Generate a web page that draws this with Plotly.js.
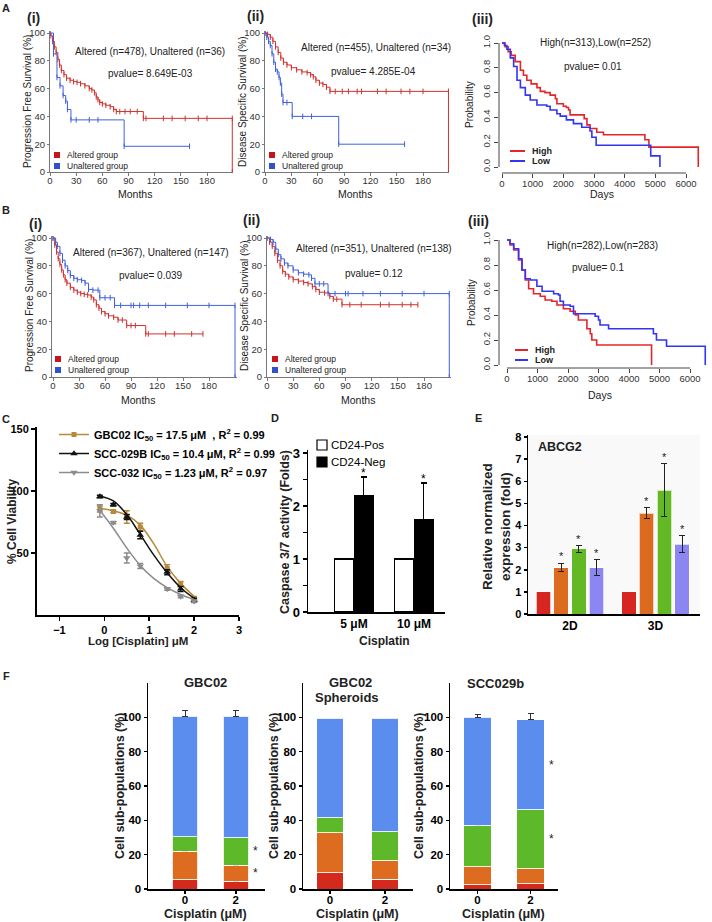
<!DOCTYPE html>
<html>
<head>
<meta charset="utf-8">
<script src="https://cdn.plot.ly/plotly-3.0.1.min.js"></script>
<style>
  body { margin: 0; background: #fff; }
  #fig { width: 712px; height: 922px; }
</style>
</head>
<body>
<div id="fig"></div>
<script>
// ---------- data ----------

// A(i) progression free survival, months / %
const aiAltT = [0, 1, 3, 5, 7, 9, 11, 13, 16, 19, 23, 27, 31, 35, 40, 45, 48, 51, 53, 55, 57, 60, 64, 69, 73, 76, 80, 86, 92, 100, 107, 110, 130, 140, 155, 170, 180, 209, 209];
const aiAltS = [100, 98, 94, 90, 86, 81, 77, 73, 70, 67.5, 66, 65, 64.5, 63.5, 62, 60, 59, 57, 54, 52, 50, 49, 48, 47, 45, 43.5, 43.5, 43.5, 43.5, 43.5, 38.6, 38.6, 38.6, 38.6, 38.6, 38.6, 38.6, 38.6, 0];
const aiUnT = [0, 4, 8, 11.5, 15, 18, 20, 24, 30, 45, 55, 85, 160];
const aiUnS = [100, 85, 68, 62, 55, 51, 45, 37.5, 37.5, 37.5, 37.5, 18.5, 18.5];

// A(ii) disease specific survival
const aiiAltT = [0, 3, 6, 9, 12, 15, 18, 21, 25, 30, 36, 42, 48, 52, 55, 58, 62, 66, 70, 74, 80, 88, 95, 105, 110, 128, 138, 155, 165, 180, 209, 209];
const aiiAltS = [100, 99, 97, 94, 90, 86, 82, 79, 77, 75, 73.5, 72, 71.5, 70, 68.5, 66, 64, 63, 61, 58, 58, 58, 58, 58, 58, 58, 58, 58, 58, 58, 58, 0];
const aiiUnT = [0, 2, 4, 6, 8, 10, 12, 14, 16, 17.5, 19, 20.5, 25, 31, 43, 53, 84, 159];
const aiiUnS = [100, 97, 94, 91, 85, 79, 74, 72, 68, 64, 56, 50, 50, 40, 40, 40, 20, 20];

// A(iii) days / probability
const aiiiHighT = [0, 100, 200, 300, 430, 600, 700, 810, 950, 1140, 1250, 1400, 1570, 1740, 1790, 2000, 2100, 2170, 2220, 2660, 2680, 2770, 2870, 3090, 3310, 4660, 4790, 6400, 6400];
const aiiiHighS = [1.0, 0.97, 0.93, 0.9, 0.85, 0.78, 0.74, 0.7, 0.67, 0.64, 0.61, 0.6, 0.58, 0.55, 0.51, 0.49, 0.48, 0.46, 0.42, 0.42, 0.39, 0.34, 0.31, 0.28, 0.26, 0.22, 0.16, 0.16, 0];
const aiiiLowT = [0, 80, 160, 270, 380, 490, 600, 760, 920, 1140, 1460, 1570, 1790, 1900, 2100, 2330, 2600, 2870, 2930, 3070, 4850, 5150, 5150];
const aiiiLowS = [1.0, 0.98, 0.95, 0.88, 0.81, 0.7, 0.64, 0.58, 0.54, 0.5, 0.49, 0.46, 0.43, 0.41, 0.38, 0.35, 0.32, 0.29, 0.24, 0.175, 0.09, 0.09, 0];

// B(i)
const biAltT = [0, 2, 4, 6, 8, 10, 12, 14, 16, 20, 24, 28, 32, 36, 40, 44, 47, 50, 53, 56, 60, 64, 70, 75, 80, 85, 90, 95, 107, 110, 130, 140, 160, 173];
const biAltS = [100, 95, 90, 85, 81, 77, 73.5, 70, 67.5, 64.5, 62.5, 61, 60, 59.5, 59, 57.5, 55.5, 52, 49.5, 47, 45.5, 44, 43, 41, 41, 37, 37, 37, 31, 31, 31, 31, 31, 31];
const biUnT = [0, 3, 5, 8, 11, 14, 17, 20, 24, 28, 33, 37, 41, 46, 52, 54, 60, 66, 71, 78, 90, 93, 100, 110, 130, 155, 180, 210, 210];
const biUnS = [100, 97, 94, 89, 84, 80, 76.5, 73, 71, 70, 69.5, 67.5, 63, 62.5, 62.5, 57, 57, 57, 51.5, 51.5, 51.5, 51.5, 51.5, 51.5, 51.5, 51.5, 51.5, 51.5, 0];

// B(ii)
const biiAltT = [0, 3, 6, 9, 12, 15, 18, 21, 25, 30, 36, 42, 47, 52, 56, 60, 66, 72, 76, 80, 86, 95, 108, 130, 140, 155, 165, 173];
const biiAltS = [100, 97, 94, 89, 84, 80, 76, 74, 72, 70, 69, 68, 67, 65, 63, 61, 60.5, 58, 56, 56, 52, 52, 52, 52, 52, 52, 52, 52];
const biiUnT = [0, 4, 7, 10, 13, 16, 20, 24, 30, 36, 42, 48, 51, 55, 60, 65, 70, 78, 90, 93, 110, 130, 155, 180, 209, 209];
const biiUnS = [100, 99, 97, 92, 88, 85, 82, 80, 77, 75, 74, 73.5, 71, 67, 67, 67, 60, 60, 60, 60, 60, 60, 60, 60, 60, 0];

// B(iii)
const biiiHighT = [0, 100, 220, 380, 490, 600, 710, 870, 1090, 1250, 1470, 1640, 1850, 2070, 2240, 2340, 2620, 2730, 2780, 2940, 4740, 4740];
const biiiHighS = [1.0, 0.96, 0.92, 0.84, 0.76, 0.68, 0.61, 0.57, 0.55, 0.52, 0.51, 0.48, 0.45, 0.43, 0.40, 0.36, 0.29, 0.25, 0.2, 0.16, 0.16, 0];
const biiiLowT = [0, 100, 220, 380, 490, 600, 760, 980, 1150, 1530, 1690, 1740, 1850, 2070, 2180, 2780, 2890, 3000, 3050, 3330, 4780, 4800, 4900, 5230, 6500, 6500];
const biiiLowS = [1.0, 0.97, 0.93, 0.85, 0.76, 0.69, 0.68, 0.63, 0.59, 0.57, 0.56, 0.51, 0.48, 0.47, 0.41, 0.41, 0.39, 0.36, 0.32, 0.29, 0.29, 0.25, 0.2, 0.15, 0.15, 0];

// C dose response
const cLogDose = [-0.1, 0.2, 0.5, 0.8, 1.4, 1.7, 2.0];
const cGbc02 = [85.5, 83.5, 79, 71, 37.5, 25, 13];
const cGbc02Err = [2.5, 1, 5, 3, 3, 2, 2];
const cScc029b = [95.5, 89, 79, 64.5, 34.5, 21, 12];
const cScc029bErr = [1, 1, 2, 3, 2, 2, 1.5];
const cScc032 = [84, 74.5, 46, 39.5, 21, 15, 11];
const cScc032Err = [5, 1, 4, 2, 1, 1, 1];
const cFitDose = [-0.1, 0.2, 0.5, 0.8, 1.1, 1.4, 1.7, 2.0];
const cGbc02Fit = [86, 84, 80.5, 72.5, 57.5, 39, 25.5, 15];
const cScc029bFit = [96, 92, 81, 65, 48.5, 34, 22, 13.5];
const cScc032Fit = [84.5, 70, 54, 40, 29.5, 22, 16.5, 12.5];

// D caspase
const dDoses = ['5 μM', '10 μM'];
const dPos = [1, 1];
const dNeg = [2.2, 1.75];
const dNegErr = [0.35, 0.68];

// E ABCG2
const eCats = ['2D', '3D'];
const eRed = [1, 1];
const eOrange = [2.1, 4.55];
const eOrangeErr = [0.2, 0.25];
const eGreen = [2.95, 5.6];
const eGreenErr = [0.15, 1.2];
const ePurple = [2.1, 3.15];
const ePurpleErr = [0.35, 0.38];

// F sub-populations (segment heights, %)
const fDoses = ['0', '2'];
const f1Red = [5.4, 4.6],   f1RedErr = [0.5, 1.2];
const f1Orange = [16.7, 9.1], f1OrangeErr = [2.3, 3.3];
const f1Green = [8.2, 16.3], f1GreenErr = [1, 7.5];
const f1Blue = [70.2, 70.5], f1BlueErr = [3.5, 3.5];
const f2Red = [9.4, 5.7];
const f2Orange = [23.3, 10.8];
const f2Green = [8.8, 16.8];
const f2Blue = [57.9, 66.1];
const f3Red = [2.5, 3],     f3RedErr = [0.5, 0.6];
const f3Orange = [10.6, 8.7], f3OrangeErr = [1, 1.3];
const f3Green = [23.9, 34.5], f3GreenErr = [1.5, 2.8];
const f3Blue = [63, 52.3],  f3BlueErr = [1.5, 3.5];

// ---------- helpers ----------
const W = 712, H = 922;
const FONT = 'Liberation Sans, Arial, sans-serif';
const xd = (a, b) => [a / W, b / W];
const yd = (top, bottom) => [1 - bottom / H, 1 - top / H];
// value range for a pixel span, given two calibration points
function span(v0, p0, v1, p1, pa, pb) {
    const k = (p1 - p0) / (v1 - v0);
    return [v0 + (pa - p0) / k, v0 + (pb - p0) / k];
}
const sfx = n => (n === 1 ? '' : String(n));

function txt(text, x, y, size, bold, extra) {
    return Object.assign({
        text, xref: 'paper', yref: 'paper', x: x / W, y: 1 - y / H,
        showarrow: false, xanchor: 'center', yanchor: 'middle',
        font: { family: FONT, size, color: '#222', weight: bold ? 'bold' : 'normal' }
    }, extra || {});
}

const traces = [];
const annotations = [];
const shapes = [];
const layout = {
    width: W, height: H,
    margin: { l: 0, r: 0, t: 0, b: 0 },
    paper_bgcolor: '#fff', plot_bgcolor: 'rgba(0,0,0,0)',
    font: { family: FONT },
    barmode: 'stack',
    showlegend: true,
    hovermode: false
};

// ---------- A/B cBioPortal style survival panels ----------
const CB_RED = '#d0312d', CB_BLUE = '#4060dc';

function kmTrace(n, t, s, color) {
    return {
        type: 'scatter', mode: 'lines+markers', x: t, y: s,
        xaxis: 'x' + sfx(n), yaxis: 'y' + sfx(n),
        line: { shape: 'hv', color, width: 1 },
        marker: { symbol: 'line-ns', size: 4, color, line: { color, width: 1 } },
        showlegend: false
    };
}

function cbioPanel(n, xRange, xDom, yRange, yDom) {
    const tf = { family: FONT, size: 9.5, color: '#333' };
    layout['xaxis' + sfx(n)] = {
        domain: xDom, range: xRange, anchor: 'y' + sfx(n),
        tickvals: [0, 30, 60, 90, 120, 150, 180],
        showline: true, linecolor: '#777', linewidth: 1,
        ticks: 'outside', ticklen: 3, tickcolor: '#777', ticklabelstandoff: -3,
        tickfont: tf, showgrid: false, zeroline: false
    };
    layout['yaxis' + sfx(n)] = {
        domain: yDom, range: yRange, anchor: 'x' + sfx(n),
        tickvals: [0, 20, 40, 60, 80, 100],
        showline: true, linecolor: '#777', linewidth: 1,
        ticks: 'outside', ticklen: 2, tickcolor: '#777',
        tickfont: tf, showgrid: false, zeroline: false
    };
}

function squareLegend(x, y, label, color) {
    shapes.push({ type: 'rect', xref: 'paper', yref: 'paper',
        x0: (x - 3) / W, x1: (x + 3) / W, y0: 1 - (y + 3) / H, y1: 1 - (y - 3) / H,
        fillcolor: color, line: { width: 0 } });
    annotations.push(txt(label, x + 8, y, 8.5, false, { xanchor: 'left' }));
}

// A(i)
cbioPanel(1, span(0, 50, 180, 207, 50, 233), xd(50, 233), span(0, 172, 100, 33, 172, 31), yd(31, 172));
traces.push(kmTrace(1, aiAltT, aiAltS, CB_RED), kmTrace(1, aiUnT, aiUnS, CB_BLUE));
// A(ii)
cbioPanel(2, span(0, 265, 180, 423, 265, 449), xd(265, 449), span(0, 172, 100, 33, 172, 31), yd(31, 172));
traces.push(kmTrace(2, aiiAltT, aiiAltS, CB_RED), kmTrace(2, aiiUnT, aiiUnS, CB_BLUE));
// B(i)
cbioPanel(4, span(0, 53, 180, 209, 52, 237), xd(52, 237), span(0, 377, 100, 238, 377, 236), yd(236, 377));
traces.push(kmTrace(4, biAltT, biAltS, CB_RED), kmTrace(4, biUnT, biUnS, CB_BLUE));
// B(ii)
cbioPanel(5, span(0, 267, 180, 424, 267, 451), xd(267, 451), span(0, 377, 100, 238, 377, 236), yd(236, 377));
traces.push(kmTrace(5, biiAltT, biiAltS, CB_RED), kmTrace(5, biiUnT, biiUnS, CB_BLUE));

[[1, 'Progression Free Survival (%)', 27, 102, 135, 194, 'Altered (n=478), Unaltered (n=36)', 150, 51, 'pvalue= 8.649E-03', 150, 73, 57, 155],
 [2, 'Disease Specific Survival (%)', 242, 102, 355, 194, 'Altered (n=455), Unaltered (n=34)', 376, 48, 'pvalue= 4.285E-04', 373, 72, 272, 155],
 [4, 'Progression Free Survival (%)', 29, 306, 138, 400, 'Altered (n=367), Unaltered (n=147)', 151, 252, 'pvalue= 0.039', 151, 275, 58, 359],
 [5, 'Disease Specific Survival (%)', 244, 306, 358, 400, 'Altered (n=351), Unaltered (n=138)', 374, 249, 'pvalue= 0.12', 374, 273, 275, 359]
].forEach(p => {
    annotations.push(txt(p[1], p[2], p[3], 10, false, { textangle: -90 }));
    annotations.push(txt('Months', p[4], p[5], 10.5));
    annotations.push(txt(p[6], p[7], p[8], 10));
    annotations.push(txt(p[9], p[10], p[11], 10));
    squareLegend(p[12], p[13], 'Altered group', '#c4161c');
    squareLegend(p[12], p[13] + 11, 'Unaltered group', '#3050d0');
});

// ---------- A(iii)/B(iii) R style panels ----------
const R_RED = '#e3262a', R_BLUE = '#3434f4';
function rTrace(n, t, s, color) {
    return {
        type: 'scatter', mode: 'lines', x: t, y: s,
        xaxis: 'x' + n, yaxis: 'y' + n,
        line: { shape: 'hv', color, width: 1.6 }, showlegend: false
    };
}
function rPanel(n, xRange, xDom, yRange, yDom) {
    const tf = { family: FONT, size: 9.5, color: '#333' };
    layout['xaxis' + n] = {
        domain: xDom, range: xRange, anchor: 'y' + n,
        tickvals: [0, 1000, 2000, 3000, 4000, 5000, 6000],
        showline: false, ticks: 'outside', ticklen: 4, tickcolor: '#444', ticklabelstandoff: -2,
        tickfont: tf, showgrid: false, zeroline: false
    };
    layout['yaxis' + n] = {
        domain: yDom, range: yRange, anchor: 'x' + n,
        tickvals: [0, 0.2, 0.4, 0.6, 0.8, 1.0], tickformat: '.1f', tickangle: -90,
        showline: false, ticks: 'outside', ticklen: 4, tickcolor: '#444',
        tickfont: tf, showgrid: false, zeroline: false
    };
    shapes.push({ type: 'line', xref: 'x' + n, yref: 'y' + n + ' domain', x0: 0, x1: 6000, y0: 0, y1: 0, line: { color: '#444', width: 1 } });
    shapes.push({ type: 'line', xref: 'x' + n + ' domain', yref: 'y' + n, x0: 0, x1: 0, y0: 0, y1: 1, line: { color: '#444', width: 1 } });
}
function lineLegend(x0, x1, y, label, color) {
    shapes.push({ type: 'line', xref: 'paper', yref: 'paper', x0: x0 / W, x1: x1 / W, y0: 1 - y / H, y1: 1 - y / H, line: { color, width: 2 } });
    annotations.push(txt(label, x1 + 5, y, 9, true, { xanchor: 'left' }));
}

rPanel(3, span(0, 502, 6000, 686, 499, 705), xd(499, 705), span(0, 167, 1, 43, 173, 40), yd(40, 173));
traces.push(rTrace(3, aiiiHighT, aiiiHighS, R_RED), rTrace(3, aiiiLowT, aiiiLowS, R_BLUE));
rPanel(6, span(0, 507, 6000, 690, 499, 708), xd(499, 708), span(0, 365, 1, 240, 368, 237), yd(237, 368));
traces.push(rTrace(6, biiiHighT, biiiHighS, R_RED), rTrace(6, biiiLowT, biiiLowS, R_BLUE));

annotations.push(txt('Probability', 470, 105, 10, false, { textangle: -90 }));
annotations.push(txt('Days', 602, 194, 10.5));
annotations.push(txt('High(n=313),Low(n=252)', 595, 43, 10));
annotations.push(txt('pvalue= 0.01', 593, 66, 10));
lineLegend(510, 525, 151, 'High', R_RED);
lineLegend(510, 525, 161, 'Low', R_BLUE);
annotations.push(txt('Probability', 472, 302, 10, false, { textangle: -90 }));
annotations.push(txt('Days', 600, 395, 10.5));
annotations.push(txt('High(n=282),Low(n=283)', 602, 246, 10));
annotations.push(txt('pvalue= 0.1', 598, 268, 10));
lineLegend(515, 528, 350, 'High', R_RED);
lineLegend(515, 528, 360, 'Low', R_BLUE);

// panel letters and sub labels
[['A', 6, 8], ['B', 6, 210], ['C', 6, 419], ['D', 275, 418], ['E', 478, 418], ['F', 6, 676]]
    .forEach(l => annotations.push(txt(l[0], l[1], l[2], 11, true)));
[['(i)', 33, 18], ['(ii)', 255, 16], ['(iii)', 482, 19], ['(i)', 35, 224], ['(ii)', 252, 220], ['(iii)', 478, 221]]
    .forEach(l => annotations.push(txt(l[0], l[1], l[2], 14, true)));

// ---------- C dose response ----------
const C_GOLD = '#b8893a', C_BLACK = '#111', C_GRAY = '#8c8c8c';
const cSeries = [
    ['GBC02 IC<sub>50</sub> = 17.5 μM  , R<sup>2</sup> = 0.99', cGbc02, cGbc02Err, cGbc02Fit, C_GOLD, 'square', 5],
    ['SCC-029B IC<sub>50</sub> = 10.4 μM, R<sup>2</sup> = 0.99', cScc029b, cScc029bErr, cScc029bFit, C_BLACK, 'triangle-up', 6.5],
    ['SCC-032 IC<sub>50</sub> = 1.23 μM, R<sup>2</sup> = 0.97', cScc032, cScc032Err, cScc032Fit, C_GRAY, 'triangle-down', 6.5]
];
cSeries.forEach(s => {
    traces.push({
        type: 'scatter', mode: 'lines', x: cFitDose, y: s[3], xaxis: 'x7', yaxis: 'y7',
        line: { shape: 'spline', color: s[4], width: 1.5 }, showlegend: false
    });
    traces.push({
        type: 'scatter', mode: 'markers', x: cLogDose, y: s[1], xaxis: 'x7', yaxis: 'y7',
        marker: { symbol: s[5], size: s[6], color: s[4] },
        error_y: { type: 'data', array: s[2], color: s[4], thickness: 1.5, width: 3 },
        showlegend: false
    });
    // legend entry: line with marker
    traces.push({
        type: 'scatter', mode: 'lines+markers', x: [null], y: [null], xaxis: 'x7', yaxis: 'y7',
        name: s[0], line: { color: s[4], width: 1.5 },
        marker: { symbol: s[5], size: s[6], color: s[4] }
    });
});
layout.xaxis7 = {
    domain: xd(37, 239), range: span(-1.5, 37, 3, 239, 37, 239), anchor: 'y7',
    tickvals: [-1, 0, 1, 2, 3], showline: true, linecolor: '#000', linewidth: 2,
    ticks: 'outside', ticklen: 4, tickwidth: 1.5, tickcolor: '#000',
    tickfont: { family: FONT, size: 11, color: '#000', weight: 'bold' },
    showgrid: false, zeroline: false
};
layout.yaxis7 = {
    domain: yd(427, 615), range: span(0, 615, 150, 429, 615, 427), anchor: 'x7',
    tickvals: [50, 100, 150], showline: true, linecolor: '#000', linewidth: 2,
    ticks: 'outside', ticklen: 4, tickwidth: 1.5, tickcolor: '#000',
    tickfont: { family: FONT, size: 11, color: '#000', weight: 'bold' },
    showgrid: false, zeroline: false
};
layout.legend = {
    x: 54 / W, y: 1 - 420 / H, xanchor: 'left', yanchor: 'top', traceorder: 'normal',
    bgcolor: 'rgba(0,0,0,0)', borderwidth: 0, itemwidth: 30, tracegroupgap: 0,
    font: { family: FONT, size: 11, color: '#000', weight: 'bold' }
};
annotations.push(txt('% Cell Viability', 12, 522, 12, true, { textangle: -90 }));
annotations.push(txt('Log [Cisplatin] μM', 138, 641, 11.5, true));

// ---------- D caspase ----------
const dIdx = dDoses.map((d, i) => i);
traces.push({
    type: 'bar', x: dIdx.map(i => i - 0.16), y: dPos, width: 0.32, xaxis: 'x8', yaxis: 'y8',
    marker: { color: '#fff', line: { color: '#000', width: 1.3 } }, showlegend: false
});
traces.push({
    type: 'bar', x: dIdx.map(i => i + 0.16), y: dNeg, width: 0.32, xaxis: 'x8', yaxis: 'y8',
    marker: { color: '#000', line: { color: '#000', width: 1 } },
    error_y: { type: 'data', symmetric: false, array: dNegErr, arrayminus: dNegErr.map(() => 0), color: '#000', thickness: 1.5, width: 3 },
    showlegend: false
});
dIdx.forEach(i => annotations.push({
    text: '*', xref: 'x8', yref: 'y8', x: i + 0.16, y: dNeg[i] + dNegErr[i] + 0.08,
    showarrow: false, font: { family: FONT, size: 12, color: '#000' }
}));
// legend boxes
[['CD24-Pos', '#fff', 445], ['CD24-Neg', '#000', 462]].forEach(l => {
    shapes.push({ type: 'rect', xref: 'paper', yref: 'paper',
        x0: 317 / W, x1: 327 / W, y0: 1 - (l[2] + 5) / H, y1: 1 - (l[2] - 5) / H,
        fillcolor: l[1], line: { color: '#000', width: 1.2 } });
    annotations.push(txt(l[0], 329, l[2], 11.5, false, { xanchor: 'left', font: { family: FONT, size: 11.5, color: '#000' } }));
});
layout.xaxis8 = {
    domain: xd(308, 445), range: span(0, 354, 1, 414, 308, 445), anchor: 'y8',
    tickvals: dIdx, ticktext: dDoses, showline: true, linecolor: '#000', linewidth: 1.5,
    ticks: '', tickfont: { family: FONT, size: 12, color: '#000', weight: 'bold' },
    showgrid: false, zeroline: false
};
layout.yaxis8 = {
    domain: yd(450, 612), range: span(0, 612, 3, 453, 612, 450), anchor: 'x8',
    tickvals: [0, 1, 2, 3], showline: true, linecolor: '#000', linewidth: 1.5,
    ticks: 'outside', ticklen: 4, tickwidth: 1.5, tickcolor: '#000',
    minor: { tickvals: [0.5, 1.5, 2.5], ticks: 'outside', ticklen: 4, tickwidth: 1.5, tickcolor: '#000' },
    tickfont: { family: FONT, size: 13, color: '#000', weight: 'bold' },
    showgrid: false, zeroline: false
};
annotations.push(txt('Caspase 3/7 activity (Folds)', 285, 532, 12.5, true, { textangle: -90 }));
annotations.push(txt('Cisplatin', 384, 641, 12, true));

// ---------- E ABCG2 ----------
const eIdx = eCats.map((c, i) => i);
const eSlot = 0.208, eWidth = 0.17;
[[eRed, null, '#d7261f'], [eOrange, eOrangeErr, '#dc6a1f'], [eGreen, eGreenErr, '#63b924'], [ePurple, ePurpleErr, '#8c86f2']]
    .forEach((s, k) => {
        const off = (k - 1.5) * eSlot;
        const tr = {
            type: 'bar', x: eIdx.map(i => i + off), y: s[0], width: eWidth, xaxis: 'x9', yaxis: 'y9',
            marker: { color: s[2], line: { color: 'rgba(255,255,255,0.7)', width: 1 } }, showlegend: false
        };
        if (s[1]) {
            tr.error_y = { type: 'data', array: s[1], color: '#222', thickness: 1, width: 3 };
            eIdx.forEach(i => annotations.push({
                text: '*', xref: 'x9', yref: 'y9', x: i + off, y: s[0][i] + s[1][i] + 0.3,
                showarrow: false, font: { family: FONT, size: 11, color: '#222' }
            }));
        }
        traces.push(tr);
    });
shapes.push({ type: 'rect', xref: 'x9 domain', yref: 'y9 domain', x0: 0, x1: 1, y0: 0, y1: 1,
    fillcolor: '#f9f9f9', line: { width: 0 }, layer: 'below' });
layout.xaxis9 = {
    domain: xd(528, 700), range: span(0, 570, 1, 655.5, 528, 700), anchor: 'y9',
    tickvals: eIdx, ticktext: eCats, showline: true, linecolor: '#000', linewidth: 1.5,
    ticks: '', tickfont: { family: FONT, size: 12, color: '#000', weight: 'bold' },
    showgrid: false, zeroline: false
};
layout.yaxis9 = {
    domain: yd(435, 614), range: span(0, 614, 8, 437, 614, 435), anchor: 'x9',
    tickvals: [0, 1, 2, 3, 4, 5, 6, 7, 8], showline: true, linecolor: '#000', linewidth: 1.5,
    ticks: 'outside', ticklen: 3, tickwidth: 1.5, tickcolor: '#000',
    tickfont: { family: FONT, size: 11, color: '#000', weight: 'bold' },
    showgrid: false, zeroline: false
};
annotations.push(txt('Relative normalized<br>expression (fold)', 496, 527, 13.5, true, { textangle: -90 }));
annotations.push(txt('ABCG2', 560, 447, 12.5, true));

// ---------- F sub-populations ----------
const F_COLORS = ['#d42a1e', '#dd6b20', '#5db82a', '#5b8def'];
const fIdx = fDoses.map((d, i) => i);
function fPanel(n, segs, errs, xRange, xDom, barW) {
    segs.forEach((seg, k) => {
        const tr = {
            type: 'bar', x: fIdx, y: seg, width: barW, xaxis: 'x' + n, yaxis: 'y' + n,
            marker: { color: F_COLORS[k], line: { color: 'rgba(255,255,255,0.85)', width: 1 } }, showlegend: false
        };
        if (errs) {
            tr.error_y = { type: 'data', symmetric: false, array: errs[k], arrayminus: errs[k].map(() => 0), color: '#333', thickness: 1, width: 3 };
        }
        traces.push(tr);
    });
    const bold = { family: FONT, size: 11.5, color: '#000', weight: 'bold' };
    layout['xaxis' + n] = {
        domain: xDom, range: xRange, anchor: 'y' + n,
        tickvals: fIdx, ticktext: fDoses, showline: true, linecolor: '#000', linewidth: 1.5,
        ticks: 'outside', ticklen: 3, tickwidth: 1.5, tickcolor: '#000', ticklabelstandoff: -3,
        tickfont: bold, showgrid: false, zeroline: false
    };
    layout['yaxis' + n] = {
        domain: yd(683, 889), range: [0, 120], anchor: 'x' + n,
        tickvals: [0, 20, 40, 60, 80, 100], showline: true, linecolor: '#000', linewidth: 1.5,
        ticks: 'outside', ticklen: 3, tickwidth: 1.5, tickcolor: '#000', tickfont: bold,
        showgrid: false, zeroline: false
    };
}
function star(n, x, y) {
    annotations.push({ text: '*', xref: 'x' + n, yref: 'y' + n, x, y, showarrow: false, xanchor: 'left',
        font: { family: FONT, size: 12, color: '#222' } });
}

fPanel(10, [f1Red, f1Orange, f1Green, f1Blue], [f1RedErr, f1OrangeErr, f1GreenErr, f1BlueErr],
    span(0, 185, 1, 235.8, 148, 265), xd(148, 265), 0.5);
fPanel(11, [f2Red, f2Orange, f2Green, f2Blue], null,
    span(0, 330, 1, 385, 303, 413), xd(303, 413), 0.49);
fPanel(12, [f3Red, f3Orange, f3Green, f3Blue], [f3RedErr, f3OrangeErr, f3GreenErr, f3BlueErr],
    span(0, 477.5, 1, 530.5, 450, 558), xd(450, 558), 0.51);

star(10, 1.3, f1Red[1] + f1Orange[1] + f1Green[1] / 2);
star(10, 1.3, f1Red[1] + f1Orange[1] / 2);
star(12, 1.32, f3Red[1] + f3Orange[1] + f3Green[1] + f3Blue[1] / 2);
star(12, 1.32, f3Red[1] + f3Orange[1] + f3Green[1] / 2);

annotations.push(txt('GBC02', 205, 682, 13, true));
annotations.push(txt('GBC02', 350, 682, 13, true));
annotations.push(txt('Spheroids', 347, 697, 13, true));
annotations.push(txt('SCC029b', 495, 683, 13, true));
[[120, 205], [274, 358], [419, 504]].forEach(p => {
    annotations.push(txt('Cell sub-populations (%)', p[0], 786, 12.5, true, { textangle: -90 }));
    annotations.push(txt('Cisplatin (μM)', p[1], 914, 12.5, true));
});

layout.annotations = annotations;
layout.shapes = shapes;

Plotly.newPlot('fig', traces, layout, { displayModeBar: false, staticPlot: true });
</script>
</body>
</html>
